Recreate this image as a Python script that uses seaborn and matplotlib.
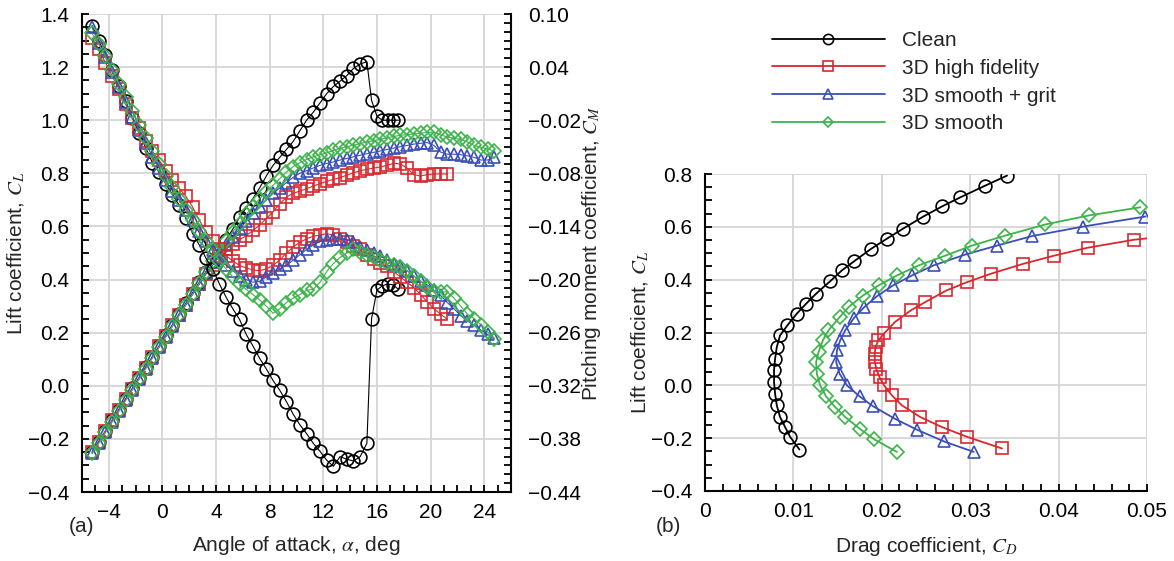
"""
Polaires d'un profil : CL et CM en fonction de l'incidence (a), puis CL vs CD (b).
Quatre configurations : propre, 3D haute fidélité, 3D lisse + grit, 3D lisse.
"""

import matplotlib
matplotlib.use("Agg")
import matplotlib.pyplot as plt
from matplotlib.ticker import MultipleLocator, FixedLocator, FuncFormatter
import seaborn as sns

# ---------------------------------------------------------------------
# Données
# ---------------------------------------------------------------------
LABELS = ["Clean", "3D high fidelity", "3D smooth + grit", "3D smooth"]
COLORS = ["#000000", "#d8282e", "#3b4fb8", "#3cb44b"]
MARKERS = ["o", "s", "^", "D"]

ALPHA_CLEAN = [
    -5.25, -4.75, -4.25, -3.75, -3.25, -2.75, -2.25, -1.75, -1.25, -0.75,
    -0.25, 0.25, 0.75, 1.25, 1.75, 2.25, 2.75, 3.25, 3.75, 4.25,
    4.75, 5.25, 5.75, 6.25, 6.75, 7.25, 7.75, 8.25, 8.75, 9.25,
    9.75, 10.25, 10.75, 11.25, 11.75, 12.25, 12.75, 13.25, 13.75, 14.25,
    14.75, 15.25, 15.6, 16.0, 16.4, 16.8, 17.2, 17.6,
]
CL_CLEAN = [
    -0.25, -0.21, -0.17, -0.13, -0.09, -0.05, -0.01, 0.03, 0.07, 0.11,
    0.15, 0.19, 0.23, 0.27, 0.31, 0.35, 0.39, 0.43, 0.47, 0.51,
    0.55, 0.59, 0.635, 0.67, 0.705, 0.745, 0.79, 0.83, 0.86, 0.89,
    0.92, 0.96, 1.0, 1.03, 1.065, 1.10, 1.127, 1.147, 1.168, 1.195,
    1.212, 1.22, 1.075, 1.015, 1.0, 1.0, 1.0, 1.0,
]
CM_CLEAN = [
    0.087, 0.070, 0.054, 0.037, 0.019, 0.002, -0.017, -0.034, -0.051, -0.068,
    -0.079, -0.092, -0.104, -0.116, -0.131, -0.148, -0.161, -0.176, -0.188, -0.205,
    -0.220, -0.233, -0.245, -0.262, -0.275, -0.289, -0.301, -0.314, -0.325, -0.338,
    -0.352, -0.364, -0.374, -0.385, -0.394, -0.404, -0.411, -0.400, -0.403, -0.405,
    -0.400, -0.385, -0.244, -0.212, -0.207, -0.205, -0.206, -0.211,
]

ALPHA_3D = [
    -5.25, -4.75, -4.25, -3.75, -3.25, -2.75, -2.25, -1.75, -1.25, -0.75,
    -0.25, 0.25, 0.75, 1.25, 1.75, 2.25, 2.75, 3.25, 3.75, 4.25,
    4.75, 5.25, 5.75, 6.25, 6.75, 7.25, 7.75, 8.25, 8.75, 9.25,
    9.75, 10.25, 10.75, 11.25, 11.75, 12.25, 12.75, 13.25, 13.75, 14.25,
    14.75, 15.25, 15.75, 16.25, 16.75, 17.25, 17.75, 18.25, 18.75, 19.25,
    19.75, 20.25, 20.75, 21.25, 21.75, 22.25, 22.75, 23.25, 23.75, 24.25,
    24.75,
]
# la série haute fidélité s'arrête à 21.25 deg (54 points)
CL_HIFI = [
    -0.25, -0.21, -0.17, -0.13, -0.09, -0.05, -0.012, 0.028, 0.068, 0.108,
    0.148, 0.188, 0.228, 0.268, 0.306, 0.345, 0.383, 0.42, 0.455, 0.49,
    0.515, 0.535, 0.55, 0.565, 0.585, 0.605, 0.63, 0.655, 0.685, 0.71,
    0.725, 0.733, 0.742, 0.752, 0.761, 0.77, 0.777, 0.784, 0.793, 0.802,
    0.81, 0.815, 0.82, 0.824, 0.83, 0.838, 0.835, 0.82, 0.795, 0.79,
    0.795, 0.797, 0.798, 0.797,
]
CM_HIFI = [
    0.073, 0.060, 0.045, 0.030, 0.015, -0.002, -0.017, -0.029, -0.043, -0.055,
    -0.065, -0.077, -0.088, -0.097, -0.106, -0.118, -0.133, -0.146, -0.157, -0.166,
    -0.173, -0.179, -0.184, -0.187, -0.189, -0.190, -0.188, -0.184, -0.178, -0.170,
    -0.163, -0.158, -0.154, -0.151, -0.150, -0.148, -0.150, -0.154, -0.158, -0.162,
    -0.166, -0.172, -0.177, -0.181, -0.185, -0.191, -0.197, -0.203, -0.209, -0.217,
    -0.225, -0.233, -0.239, -0.245,
]
CL_GRIT = [
    -0.255, -0.215, -0.175, -0.135, -0.095, -0.055, -0.015, 0.025, 0.065, 0.105,
    0.145, 0.185, 0.225, 0.265, 0.305, 0.345, 0.385, 0.425, 0.465, 0.50,
    0.53, 0.56, 0.59, 0.62, 0.65, 0.675, 0.70, 0.725, 0.745, 0.765,
    0.785, 0.80, 0.81, 0.82, 0.83, 0.837, 0.843, 0.85, 0.856, 0.862,
    0.868, 0.874, 0.879, 0.884, 0.89, 0.895, 0.90, 0.905, 0.91, 0.913,
    0.916, 0.905, 0.88, 0.872, 0.872, 0.87, 0.866, 0.86, 0.85, 0.85,
    0.86,
]
CM_GRIT = [
    0.085, 0.067, 0.051, 0.034, 0.018, 0.001, -0.016, -0.031, -0.046, -0.061,
    -0.074, -0.088, -0.100, -0.110, -0.121, -0.133, -0.145, -0.157, -0.167, -0.176,
    -0.184, -0.190, -0.196, -0.200, -0.203, -0.202, -0.197, -0.193, -0.188, -0.184,
    -0.178, -0.172, -0.166, -0.161, -0.157, -0.155, -0.154, -0.154, -0.155, -0.158,
    -0.163, -0.167, -0.170, -0.173, -0.178, -0.182, -0.185, -0.190, -0.196, -0.202,
    -0.206, -0.212, -0.218, -0.226, -0.233, -0.241, -0.247, -0.251, -0.257, -0.262,
    -0.266,
]
CL_SMOOTH = [
    -0.255, -0.215, -0.175, -0.135, -0.095, -0.055, -0.015, 0.025, 0.065, 0.105,
    0.145, 0.185, 0.225, 0.265, 0.305, 0.345, 0.387, 0.428, 0.468, 0.51,
    0.545, 0.58, 0.61, 0.645, 0.675, 0.705, 0.73, 0.755, 0.78, 0.805,
    0.825, 0.84, 0.852, 0.862, 0.87, 0.877, 0.886, 0.894, 0.90, 0.906,
    0.912, 0.918, 0.923, 0.928, 0.934, 0.939, 0.943, 0.946, 0.948, 0.951,
    0.954, 0.955, 0.945, 0.937, 0.932, 0.928, 0.918, 0.905, 0.898, 0.892,
    0.884,
]
CM_SMOOTH = [
    0.078, 0.066, 0.052, 0.037, 0.021, 0.006, -0.010, -0.025, -0.040, -0.055,
    -0.070, -0.083, -0.095, -0.109, -0.121, -0.133, -0.145, -0.157, -0.167, -0.179,
    -0.188, -0.197, -0.205, -0.211, -0.217, -0.223, -0.230, -0.238, -0.233, -0.226,
    -0.221, -0.217, -0.212, -0.211, -0.203, -0.191, -0.182, -0.175, -0.170, -0.166,
    -0.169, -0.172, -0.175, -0.178, -0.181, -0.183, -0.186, -0.190, -0.196, -0.202,
    -0.208, -0.213, -0.214, -0.214, -0.221, -0.230, -0.239, -0.244, -0.251, -0.259,
    -0.267,
]

# polaires (b) : CD, CL
CD_POLAR_CLEAN = [
    0.01068, 0.00963, 0.00906, 0.00849, 0.00812, 0.00793, 0.00781, 0.00781, 0.00793,
    0.00812, 0.00849, 0.00932, 0.01038, 0.01144, 0.01257, 0.01416, 0.01548, 0.01688,
    0.0188, 0.02057, 0.02235, 0.0247, 0.0268, 0.0289, 0.0317, 0.03417,
]
CL_POLAR_CLEAN = [
    -0.243, -0.195, -0.158, -0.12, -0.076, -0.032, 0.012, 0.057, 0.101,
    0.145, 0.189, 0.227, 0.271, 0.309, 0.347, 0.394, 0.435, 0.47,
    0.517, 0.555, 0.592, 0.639, 0.677, 0.712, 0.756, 0.794,
]
CD_POLAR_HIFI = [
    0.0336, 0.02964, 0.0268, 0.02435, 0.02228, 0.02114, 0.02025, 0.01975, 0.0194,
    0.0192, 0.0192, 0.0193, 0.0196, 0.0203, 0.0215, 0.0233, 0.0249, 0.0273,
    0.0296, 0.0323, 0.036, 0.0395, 0.0433, 0.0485, 0.0545,
]
CL_POLAR_HIFI = [
    -0.239, -0.195, -0.158, -0.12, -0.076, -0.038, 0.0, 0.03, 0.06,
    0.09, 0.12, 0.145, 0.17, 0.198, 0.24, 0.284, 0.315, 0.359,
    0.39, 0.422, 0.46, 0.491, 0.521, 0.551, 0.572,
]
CD_POLAR_GRIT = [
    0.0304, 0.027, 0.02398, 0.02145, 0.019, 0.01749, 0.01605, 0.01522, 0.01484,
    0.01492, 0.01529, 0.01586, 0.01688, 0.01801, 0.01944, 0.02126, 0.02341, 0.02586,
    0.02944, 0.03303, 0.037, 0.04277, 0.04983,
]
CL_POLAR_GRIT = [
    -0.252, -0.212, -0.168, -0.126, -0.079, -0.042, 0.0, 0.044, 0.088,
    0.132, 0.17, 0.208, 0.256, 0.296, 0.337, 0.378, 0.416, 0.454,
    0.495, 0.529, 0.565, 0.601, 0.639,
]
CD_POLAR_SMOOTH = [
    0.02171, 0.01917, 0.01749, 0.01586, 0.01472, 0.0137, 0.01302, 0.01265, 0.01257,
    0.01284, 0.01333, 0.01397, 0.01522, 0.01624, 0.01787, 0.01963, 0.02171, 0.02416,
    0.02718, 0.0302, 0.03398, 0.0385, 0.0434, 0.04926,
]
CL_POLAR_SMOOTH = [
    -0.252, -0.205, -0.164, -0.12, -0.082, -0.042, 0.0, 0.044, 0.088,
    0.126, 0.17, 0.208, 0.258, 0.296, 0.34, 0.378, 0.416, 0.454,
    0.491, 0.529, 0.567, 0.609, 0.643, 0.674,
]

CM_TICKS = [-0.44, -0.38, -0.32, -0.26, -0.20, -0.14, -0.08, -0.02, 0.04, 0.10]

FS = 15
MS = {"o": 9.2, "s": 8.2, "^": 9.2, "D": 7.0}
GRID = "#d6d6d6"


# ---------------------------------------------------------------------
# Petits utilitaires
# ---------------------------------------------------------------------
def _minus(fmt):
    return FuncFormatter(lambda v, _: (fmt % v).replace("-", "\u2212"))


def _curve(ax, x, y, i, lw):
    sns.lineplot(
        x=x, y=y, ax=ax, sort=False, estimator=None, legend=False,
        color=COLORS[i], lw=lw, marker=MARKERS[i], markersize=MS[MARKERS[i]],
        markerfacecolor="none", markeredgecolor=COLORS[i], markeredgewidth=1.2,
        label=LABELS[i],
    )


def _style_ticks(ax, **kw):
    ax.tick_params(which="both", direction="in", length=5, width=1.3,
                   labelsize=FS, colors="black", **kw)


sns.set_theme(style="white")
plt.rcParams["font.family"] = ["Liberation Sans", "DejaVu Sans"]
plt.rcParams["mathtext.fontset"] = "stix"
plt.rcParams["axes.unicode_minus"] = True

fig = plt.figure(figsize=(11.74, 5.61), dpi=100)
W, H = 1174, 561

# ---------------------------------------------------------------------
# (a) CL et CM en fonction de alpha
# ---------------------------------------------------------------------
ax_a = fig.add_axes([82 / W, 69 / H, 429 / W, 478 / H])
ax_m = ax_a.twinx()

alphas = [ALPHA_CLEAN, ALPHA_3D[:len(CL_HIFI)], ALPHA_3D, ALPHA_3D]
cls = [CL_CLEAN, CL_HIFI, CL_GRIT, CL_SMOOTH]
cms = [CM_CLEAN, CM_HIFI, CM_GRIT, CM_SMOOTH]
for i in range(4):
    _curve(ax_a, alphas[i], cls[i], i, 0.8)
    _curve(ax_m, alphas[i], cms[i], i, 0.8)

ax_a.set_xlim(-6, 26)
ax_a.set_ylim(-0.4, 1.4)
ax_a.xaxis.set_major_locator(MultipleLocator(4))
ax_a.xaxis.set_minor_locator(MultipleLocator(1))
ax_a.yaxis.set_major_locator(MultipleLocator(0.2))
ax_a.yaxis.set_minor_locator(MultipleLocator(0.05))
ax_a.xaxis.set_major_formatter(_minus("%d"))
ax_a.yaxis.set_major_formatter(_minus("%.1f"))
ax_a.grid(True, which="major", color=GRID, lw=1.3)
ax_a.set_axisbelow(True)
_style_ticks(ax_a, left=True, right=False, top=False, bottom=True)
ax_a.tick_params(axis="y", pad=9)
ax_a.tick_params(axis="x", pad=8)

ax_m.set_ylim(-0.44, 0.10)
ax_m.yaxis.set_major_locator(FixedLocator(CM_TICKS))
ax_m.yaxis.set_minor_locator(MultipleLocator(0.01))
ax_m.yaxis.set_major_formatter(_minus("%.2f"))
_style_ticks(ax_m, right=True, left=False)
ax_m.tick_params(axis="y", pad=12)

for name, sp in ax_a.spines.items():
    sp.set_visible(name in ("left", "bottom"))
    sp.set_color("black")
    sp.set_linewidth(1.5)
for name, sp in ax_m.spines.items():
    sp.set_visible(name == "right")
    sp.set_color("black")
    sp.set_linewidth(1.5)

ax_a.set_xlabel(r"Angle of attack, $\alpha$, deg", fontsize=FS)
ax_a.set_ylabel(r"Lift coefficient, $C_L$", fontsize=FS)
ax_m.set_ylabel(r"Pitching moment coefficient, $C_M$", fontsize=FS)
ax_a.xaxis.set_label_coords(0.5, -0.088)
ax_a.yaxis.set_label_coords(-0.128, 0.5)
ax_m.yaxis.set_label_coords(1.16, 0.5)
fig.text(82 / W, 1 - 527 / H, "(a)", fontsize=FS, ha="center", va="center")

# ---------------------------------------------------------------------
# (b) polaires CL vs CD
# ---------------------------------------------------------------------
ax_b = fig.add_axes([705 / W, 70 / H, 442 / W, 317 / H])
cds = [CD_POLAR_CLEAN, CD_POLAR_HIFI, CD_POLAR_GRIT, CD_POLAR_SMOOTH]
clp = [CL_POLAR_CLEAN, CL_POLAR_HIFI, CL_POLAR_GRIT, CL_POLAR_SMOOTH]
for i in range(4):
    _curve(ax_b, cds[i], clp[i], i, 1.3)

ax_b.set_xlim(0, 0.05)
ax_b.set_ylim(-0.4, 0.8)
ax_b.xaxis.set_major_locator(MultipleLocator(0.01))
ax_b.xaxis.set_minor_locator(MultipleLocator(0.002))
ax_b.yaxis.set_major_locator(MultipleLocator(0.2))
ax_b.yaxis.set_minor_locator(MultipleLocator(0.05))
ax_b.xaxis.set_major_formatter(
    FuncFormatter(lambda v, _: "0" if abs(v) < 1e-9 else f"{v:.2f}"))
ax_b.yaxis.set_major_formatter(_minus("%.1f"))
ax_b.grid(True, which="major", color=GRID, lw=1.3)
ax_b.set_axisbelow(True)
_style_ticks(ax_b, left=True, right=False, top=False, bottom=True)
ax_b.tick_params(axis="y", pad=9)
ax_b.tick_params(axis="x", pad=8)
for name, sp in ax_b.spines.items():
    sp.set_visible(name in ("left", "bottom"))
    sp.set_color("black")
    sp.set_linewidth(1.5)

ax_b.set_xlabel(r"Drag coefficient, $C_D$", fontsize=FS)
ax_b.set_ylabel(r"Lift coefficient, $C_L$", fontsize=FS)
ax_b.xaxis.set_label_coords(0.5, -0.14)
ax_b.yaxis.set_label_coords(-0.122, 0.5)
fig.text(668 / W, 1 - 527 / H, "(b)", fontsize=FS, ha="center", va="center")

fig.legend(
    handles=ax_b.get_lines()[:4], labels=LABELS,
    loc="upper left", bbox_to_anchor=(772 / W, 1 - 31 / H),
    frameon=False, fontsize=FS, handlelength=5.4, handletextpad=0.85,
    labelspacing=0.42, markerscale=0.8, borderpad=0, borderaxespad=0,
)

fig.savefig("out.png", dpi=100)
plt.close(fig)
